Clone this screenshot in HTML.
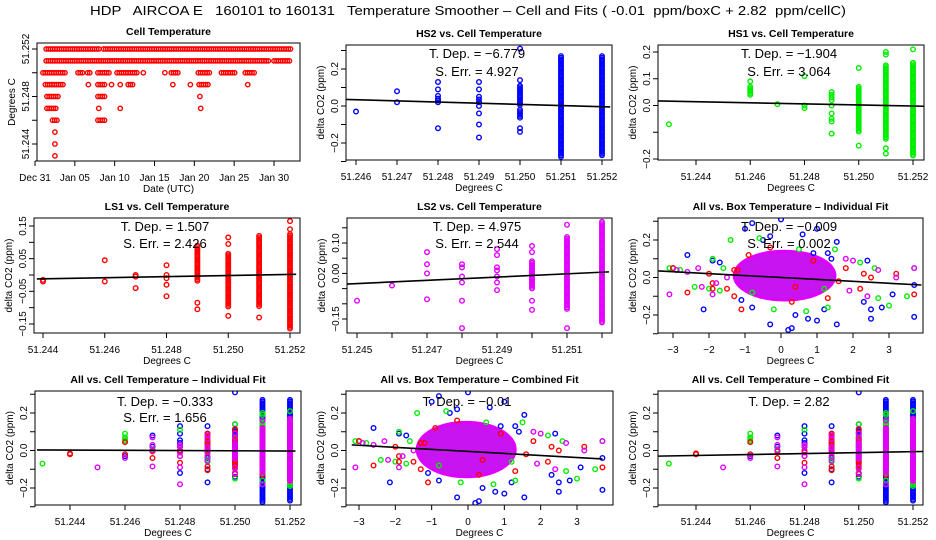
<!DOCTYPE html>
<html><head><meta charset="utf-8"><style>
html,body{margin:0;padding:0;background:#fff;}
svg{display:block;font-family:"Liberation Sans",Arial,sans-serif;}
</style></head><body>
<svg id="chart" width="936" height="540" viewBox="0 0 936 540">
<text x="468" y="15" text-anchor="middle" font-size="13" style="white-space:pre" xml:space="preserve" textLength="756" lengthAdjust="spacingAndGlyphs">HDP   AIRCOA E   160101 to 160131   Temperature Smoother – Cell and Fits ( -0.01  ppm/boxC + 2.82  ppm/cellC)</text>
</svg>
<script>
// ---------- DATA ----------
const cellTempRuns = [
 [51.252,1.4,8.2],[51.252,8.6,32.2],
 [51.251,1.4,29.5],[51.251,30.0,32.2],
 [51.250,1.0,3.8],[51.250,5.4,6.0],[51.250,6.6,7.1],[51.250,7.9,9.4],[51.250,10.3,12.8],[51.250,13.6,13.6],[51.250,16.3,16.3],[51.250,17.1,18.0],[51.250,20.5,21.9],[51.250,23.4,25.3],[51.250,26.4,27.6],
 [51.249,1.3,3.6],[51.249,6.7,6.7],[51.249,7.9,9.0],[51.249,9.6,9.6],[51.249,10.7,10.7],[51.249,11.7,12.3],[51.249,17.3,17.3],[51.249,19.5,19.5],[51.249,20.6,21.8],[51.249,26.7,26.7],
 [51.248,1.5,3.1],[51.248,7.9,9.0],[51.248,20.7,20.7],
 [51.247,1.5,2.7],[51.247,8.0,8.0],[51.247,10.7,10.7],[51.247,20.8,20.8],
 [51.246,2.2,2.9],[51.246,7.9,8.9],
 [51.245,2.5,2.5],[51.244,2.5,2.5],[51.243,2.5,2.5]
];
const dayTicks = [0,5,10,15,20,25,30];
const dayTickLabels = ["Dec 31","Jan 05","Jan 10","Jan 15","Jan 20","Jan 25","Jan 30"];

const hs2Points = [[51.246,-0.03],[51.247,0.08],[51.247,0.02],[51.248,0.13],[51.248,0.09],[51.248,0.055],[51.248,0.04],[51.248,0.03],[51.248,0.02],[51.248,-0.12],[51.249,0.13],[51.249,0.09],[51.249,0.05],[51.249,0.035],[51.249,0.02],[51.249,0.0],[51.249,-0.04],[51.249,-0.1],[51.249,-0.17],[51.250,0.31],[51.250,0.14],[51.250,-0.12],[51.250,-0.14]];
const hs2Ranges = [[51.250,0.0,0.11],[51.250,-0.07,-0.02],[51.251,-0.28,0.27],[51.252,-0.27,0.27]];
const hs2Fit = [[51.2455,0.037],[51.2522,-0.005]];
const hs1Points = [[51.243,-0.07],[51.246,0.09],[51.247,0.005],[51.248,0.11],[51.248,0.0],[51.248,-0.01],[51.249,0.05],[51.249,0.04],[51.249,0.03],[51.249,0.02],[51.249,0.0],[51.249,-0.03],[51.249,-0.05],[51.249,-0.06],[51.249,-0.105],[51.250,0.14],[51.250,-0.15],[51.251,0.19],[51.251,0.2],[51.251,-0.16],[51.251,-0.18],[51.252,0.21]];
const hs1Ranges = [[51.246,0.04,0.07],[51.250,-0.1,0.07],[51.251,-0.13,0.15],[51.252,-0.19,0.16]];
const hs1Fit = [[51.2426,0.017],[51.2525,-0.003]];
const ls1Points = [[51.244,-0.015],[51.244,-0.02],[51.246,0.045],[51.246,-0.02],[51.247,0.0],[51.247,-0.005],[51.247,-0.04],[51.248,0.03],[51.248,0.0],[51.248,-0.01],[51.248,-0.03],[51.248,-0.065],[51.249,-0.085],[51.249,-0.105],[51.250,0.115],[51.250,0.095],[51.250,-0.125],[51.251,-0.13],[51.252,0.165],[51.252,0.14]];
const ls1Ranges = [[51.249,-0.02,0.09],[51.250,-0.1,0.065],[51.251,-0.1,0.12],[51.252,-0.165,0.125]];
const ls1Fit = [[51.2438,-0.012],[51.2522,0.002]];
const ls2Points = [[51.245,-0.09],[51.246,-0.04],[51.247,0.07],[51.247,0.03],[51.247,0.0],[51.247,-0.085],[51.248,0.03],[51.248,0.02],[51.248,-0.01],[51.248,-0.03],[51.248,-0.09],[51.248,-0.18],[51.249,0.08],[51.249,0.06],[51.249,0.02],[51.249,0.01],[51.249,-0.01],[51.249,-0.03],[51.249,-0.055],[51.250,0.09],[51.250,0.07],[51.250,-0.09],[51.250,-0.12],[51.251,0.16],[51.251,-0.18]];
const ls2Ranges = [[51.250,-0.05,0.04],[51.251,-0.12,0.12],[51.252,-0.165,0.17]];
const ls2Fit = [[51.2447,-0.035],[51.2522,0.005]];

const boxBlue = [[-2.6,0.12],[-2.15,-0.17],[-1.9,0.09],[-0.8,0.29],[-0.3,-0.25],[0,0.31],[0.2,-0.28],[0.3,-0.27],[0.75,-0.22],[1.0,0.26],[1.0,-0.23],[1.55,-0.25],[1.55,0.19],[2.3,-0.13],[2.5,-0.17],[2.5,-0.22],[2.8,-0.16],[3.1,-0.09],[3.7,-0.21],[3.7,-0.04],[-3.0,0.05],[-1.7,0.08],[0.6,0.23],[-1.0,0.26],[2.4,0.09],[1.4,0.1],[-0.5,0.2],[1.2,-0.17],[-0.8,-0.16],[-1.1,-0.12],[0.4,-0.2],[0.9,0.13],[-0.3,0.22],[1.3,0.13]];
const boxGreen = [[-3.1,0.05],[-2.8,0.04],[-2.4,-0.05],[-2.0,-0.06],[-1.9,0.1],[-1.4,0.2],[-0.6,0.21],[-0.2,-0.17],[0.7,-0.18],[1.3,-0.16],[2.6,0.05],[2.7,-0.11],[3.0,-0.15],[3.5,-0.1],[3.7,0.05],[-1.6,0.05],[2.2,0.08],[-1.7,-0.07],[1.5,0.15],[-0.8,-0.08],[0.5,0.15],[1.2,-0.06]];
const boxRed = [[-3.0,0.05],[-2.6,-0.08],[-2.0,0.02],[-1.9,-0.03],[-1.9,-0.06],[-1.5,-0.06],[-1.3,-0.1],[-1.2,0.04],[-1.1,-0.17],[-0.9,0.12],[0.3,-0.13],[1.3,-0.11],[1.8,0.05],[2.2,-0.06],[2.3,0.02],[2.5,0.0],[3.2,0.02],[3.7,-0.09],[-0.3,0.16],[0.9,0.09],[1.6,-0.02],[-1.3,0.04],[0.4,-0.05]];
const boxMagenta = [[-3.1,-0.09],[-2.9,0.04],[-2.6,0.03],[-2.3,0.05],[-1.9,-0.09],[-2.2,-0.05],[2.4,-0.1],[2.7,0.04],[3.2,0.0],[3.7,0.05],[1.8,0.1],[2.0,0.09],[-1.5,0.0],[1.9,-0.07],[-1.8,-0.03]];
const boxCore6 = [-1.3,1.5,-0.12,0.14];
const boxCore8 = [-1.4,1.3,-0.14,0.15];
const boxFit6 = [[-3.4,0.035],[3.9,-0.04]];
const boxFit8 = [[-3.2,0.03],[3.7,-0.045]];
const cellFit7 = [[51.2428,0.003],[51.2522,-0.003]];
const cellFit9 = [[51.2426,-0.03],[51.2525,-0.005]];

const cellTicks1 = [51.246,51.247,51.248,51.249,51.250,51.251,51.252];
const cellTicks2 = [51.244,51.246,51.248,51.250,51.252];
const cellTicks5 = [51.245,51.246,51.247,51.248,51.249,51.250,51.251,51.252];
const cellTicks5Labels = ["51.245","","51.247","","51.249","","51.251",""];
const yTicksA = [-0.3,-0.2,-0.1,0,0.1,0.2,0.3];
const yTicksALabels = ["","-0.2","","0.0","","0.2",""];
const yTicksB = [-0.2,-0.1,0,0.1,0.2];
const yTicksBLabels = ["-0.2","","0.0","0.1","0.2"];
const yTicksC = [-0.15,-0.1,-0.05,0,0.05,0.1,0.15];
const yTicksCLabels = ["-0.15","","-0.05","","0.05","","0.15"];
const yTicksD = [-0.15,-0.1,-0.05,0,0.05,0.1,0.15];
const yTicksDLabels = ["-0.15","","","0.00","","0.10",""];
const tempTicks = [51.244,51.246,51.248,51.250,51.252];
const tempTickLabels = ["51.244","","51.248","","51.252"];
const boxTicks = [-3,-2,-1,0,1,2,3];

// ---------- RENDER ----------
const NS = 'http://www.w3.org/2000/svg';
const svg = document.getElementById('chart');
function mk(tag, attrs, parent){ const e = document.createElementNS(NS, tag); for (const k in attrs) e.setAttribute(k, attrs[k]); parent.appendChild(e); return e; }
const fmt = v => v.toFixed(3);
let clipN = 0;
const COLORS = {blue:'#0000ff', green:'#00ee00', red:'#ff0000', magenta:'#e000ff', p1:'#ff0000'};

function panel(name, box, xc, yc, xt, xl, yt, yl, title, xlab, ylab){
  const [l,r,t,b] = box;
  const X = v => xc[1] + (v - xc[0]) * (xc[3] - xc[1]) / (xc[2] - xc[0]);
  const Y = v => yc[1] + (v - yc[0]) * (yc[3] - yc[1]) / (yc[2] - yc[0]);
  const g = mk('g', {}, svg);
  
  
  clipN++;
  const cp = mk('clipPath', {id: 'c' + clipN}, svg);
  mk('rect', {x: l, y: t, width: r - l, height: b - t}, cp);
  const plot = mk('g', {'clip-path': 'url(#c' + clipN + ')'}, g);
  
  
  const xa = mk('g', {stroke: '#000', 'stroke-width': 1}, g);
  
  
  mk('line', {x1: X(xt[0]), x2: X(xt[xt.length - 1]), y1: b, y2: b}, xa);
  xt.forEach((v, i) => {
    mk('line', {x1: X(v), x2: X(v), y1: b, y2: b + 5}, xa);
    if (xl[i]) {
      const tx = mk('text', {x: X(v), y: b + 20, 'text-anchor': 'middle', 'font-size': 10, stroke: 'none'}, xa);
      
      
      tx.textContent = xl[i].replace('-', '\u2212');
    }
  });
  const ya = mk('g', {stroke: '#000', 'stroke-width': 1}, g);
  
  
  mk('line', {x1: l, x2: l, y1: Y(yt[0]), y2: Y(yt[yt.length - 1])}, ya);
  yt.forEach((v, i) => {
    mk('line', {x1: l - 5, x2: l, y1: Y(v), y2: Y(v)}, ya);
    if (yl[i]) {
      const tx = mk('text', {x: l - 8, y: Y(v), 'text-anchor': 'middle', 'font-size': 10, stroke: 'none', transform: 'rotate(-90 ' + (l - 8) + ' ' + Y(v) + ')'}, ya);
      
      
      tx.textContent = yl[i].replace('-', '\u2212');
    }
  });
  const bx = mk('rect', {x: l, y: t, width: r - l, height: b - t, fill: 'none', stroke: '#000', 'stroke-width': 1}, g);
  
  
  const tt = mk('text', {x: (l + r) / 2, y: t - 8, 'text-anchor': 'middle', 'font-size': 10.5, 'font-weight': 'bold'}, g);
  
  
  tt.textContent = title;
  const xt2 = mk('text', {x: (l + r) / 2, y: b + 31, 'text-anchor': 'middle', 'font-size': 10}, g);
  
  
  xt2.textContent = xlab;
  const yx = l - 22, ym = (t + b) / 2;
  const yt2 = mk('text', {x: yx, y: ym, 'text-anchor': 'middle', 'font-size': 10, transform: 'rotate(-90 ' + yx + ' ' + ym + ')'}, g);
  
  
  yt2.textContent = ylab;
  return {g, plot, X, Y, l, r, t, b};
}
function pt(P, x, y, col){
  const c = mk('circle', {cx: P.X(x), cy: P.Y(y), r: 2.3, fill: 'none', stroke: col, 'stroke-width': 1.4}, P.plot);
  
  
}
function range(P, x, y0, y1, col){
  const pa = P.Y(y1), pb = P.Y(y0);
  for (let p = pa; p <= pb + 0.01; p += 1.6) {
    const c = mk('circle', {cx: P.X(x), cy: p, r: 2.3, fill: 'none', stroke: col, 'stroke-width': 1.3}, P.plot);
    
    
  }
}
function series(P, pts, rngs, col){ rngs.forEach(r => range(P, r[0], r[1], r[2], col)); pts.forEach(p => pt(P, p[0], p[1], col)); }
function fit(P, f){
  const ln = mk('line', {x1: P.X(f[0][0]), y1: P.Y(f[0][1]), x2: P.X(f[1][0]), y2: P.Y(f[1][1]), stroke: '#000', 'stroke-width': 1.6}, P.plot);
  
  
}
function ann(P, cx, y1, s1, y2, s2){
  const a = mk('text', {x: cx, y: y1, 'text-anchor': 'middle', 'font-size': 13}, P.g);
  
  
  a.textContent = s1;
  if (s2) {
    const b2 = mk('text', {x: cx, y: y2, 'text-anchor': 'middle', 'font-size': 13}, P.g);
    
    
    b2.textContent = s2;
  }
}
function core(P, c){
  const e = mk('ellipse', {cx: P.X((c[0] + c[1]) / 2), cy: P.Y((c[2] + c[3]) / 2), rx: (P.X(c[1]) - P.X(c[0])) / 2, ry: (P.Y(c[2]) - P.Y(c[3])) / 2, fill: '#c814f0', stroke: '#e000ff', 'stroke-width': 3}, P.plot);
  
  
}
const cellLabels = a => a.map(fmt);

const P1 = panel('cell-temperature', [37,300,43,161], [0,35,30,274], [51.244,144,51.252,49], dayTicks, dayTickLabels, tempTicks, tempTickLabels, 'Cell Temperature', 'Date (UTC)', 'Degrees C');
cellTempRuns.forEach(r => {
  const x0 = P1.X(r[1]), x1 = P1.X(r[2]);
  for (let x = x0; x <= x1 + 0.01; x += 2.2) {
    const c = mk('circle', {cx: x, cy: P1.Y(r[0]), r: 2.2, fill: 'none', stroke: COLORS.p1, 'stroke-width': 1.4}, P1.plot);
    
    
  }
});
const P2 = panel('hs2', [346,612,45,160], [51.246,356,51.252,602], [0.2,69,-0.2,143], cellTicks1, cellLabels(cellTicks1), yTicksA, yTicksALabels, 'HS2 vs. Cell Temperature', 'Degrees C', 'delta CO2 (ppm)');
series(P2, hs2Points, hs2Ranges, COLORS.blue); fit(P2, hs2Fit);
ann(P2, 477, 58, 'T. Dep. =  \u22126.779', 76, 'S. Err. = 4.927');
const P3 = panel('hs1', [658,924,45,160], [51.244,696,51.252,913], [0.2,52,-0.2,159], cellTicks2, cellLabels(cellTicks2), yTicksB, yTicksBLabels, 'HS1 vs. Cell Temperature', 'Degrees C', 'delta CO2 (ppm)');
series(P3, hs1Points, hs1Ranges, COLORS.green); fit(P3, hs1Fit);
ann(P3, 789, 58, 'T. Dep. =  \u22121.904', 76, 'S. Err. = 3.064');
const P4 = panel('ls1', [34,300,218,333], [51.244,43,51.252,290], [0.15,226,-0.15,324], cellTicks2, cellLabels(cellTicks2), yTicksC, yTicksCLabels, 'LS1 vs. Cell Temperature', 'Degrees C', 'delta CO2 (ppm)');
series(P4, ls1Points, ls1Ranges, COLORS.red); fit(P4, ls1Fit);
ann(P4, 165, 231, 'T. Dep. =  1.507', 248, 'S. Err. = 2.426');
const P5 = panel('ls2', [347,612,218,333], [51.245,357,51.251,567], [0.1,243,-0.15,319], cellTicks5, cellTicks5Labels, yTicksD, yTicksDLabels, 'LS2 vs. Cell Temperature', 'Degrees C', 'delta CO2 (ppm)');
series(P5, ls2Points, ls2Ranges, COLORS.magenta); fit(P5, ls2Fit);
ann(P5, 477, 231, 'T. Dep. =  4.975', 248, 'S. Err. = 2.544');
const P6 = panel('all-box-individual', [658,923,218,333], [-3,673,3,889], [0.2,240,-0.2,315], boxTicks, boxTicks.map(v => String(v)), yTicksA, yTicksALabels, 'All vs. Box Temperature \u2013 Individual Fit', 'Degrees C', 'delta CO2 (ppm)');
core(P6, boxCore6);
boxBlue.forEach(p => pt(P6, p[0], p[1], COLORS.blue));
boxGreen.forEach(p => pt(P6, p[0], p[1], COLORS.green));
boxRed.forEach(p => pt(P6, p[0], p[1], COLORS.red));
boxMagenta.forEach(p => pt(P6, p[0], p[1], COLORS.magenta));
fit(P6, boxFit6);
ann(P6, 789, 231, 'T. Dep. =  \u22120.009', 248, 'S. Err. = 0.002');
const P7 = panel('all-cell-individual', [35,301,391,505], [51.244,70,51.252,290], [0.2,413,-0.2,488], cellTicks2, cellLabels(cellTicks2), yTicksA, yTicksALabels, 'All vs. Cell Temperature \u2013 Individual Fit', 'Degrees C', 'delta CO2 (ppm)');
series(P7, hs2Points, hs2Ranges, COLORS.blue);
series(P7, hs1Points, hs1Ranges, COLORS.green);
series(P7, ls1Points, ls1Ranges, COLORS.red);
series(P7, ls2Points, ls2Ranges, COLORS.magenta);
fit(P7, cellFit7);
ann(P7, 165, 406, 'T. Dep. =  \u22120.333', 422, 'S. Err. = 1.656');
const P8 = panel('all-box-combined', [346,613,391,505], [-3,359,3,577], [0.2,413,-0.2,488], boxTicks, boxTicks.map(v => String(v)), yTicksA, yTicksALabels, 'All vs. Box Temperature \u2013 Combined Fit', 'Degrees C', 'delta CO2 (ppm)');
core(P8, boxCore8);
boxBlue.forEach(p => pt(P8, p[0], p[1], COLORS.blue));
boxGreen.forEach(p => pt(P8, p[0], p[1], COLORS.green));
boxRed.forEach(p => pt(P8, p[0], p[1], COLORS.red));
boxMagenta.forEach(p => pt(P8, p[0], p[1], COLORS.magenta));
fit(P8, boxFit8);
ann(P8, 467, 406, 'T. Dep. =  \u22120.01', 0, '');
const P9 = panel('all-cell-combined', [658,923,391,505], [51.244,696,51.252,913], [0.2,413,-0.2,488], cellTicks2, cellLabels(cellTicks2), yTicksA, yTicksALabels, 'All vs. Cell Temperature \u2013 Combined Fit', 'Degrees C', 'delta CO2 (ppm)');
series(P9, hs2Points, hs2Ranges, COLORS.blue);
series(P9, hs1Points, hs1Ranges, COLORS.green);
series(P9, ls1Points, ls1Ranges, COLORS.red);
series(P9, ls2Points, ls2Ranges, COLORS.magenta);
fit(P9, cellFit9);
ann(P9, 789, 406, 'T. Dep. =  2.82', 0, '');
</script>
</body></html>
